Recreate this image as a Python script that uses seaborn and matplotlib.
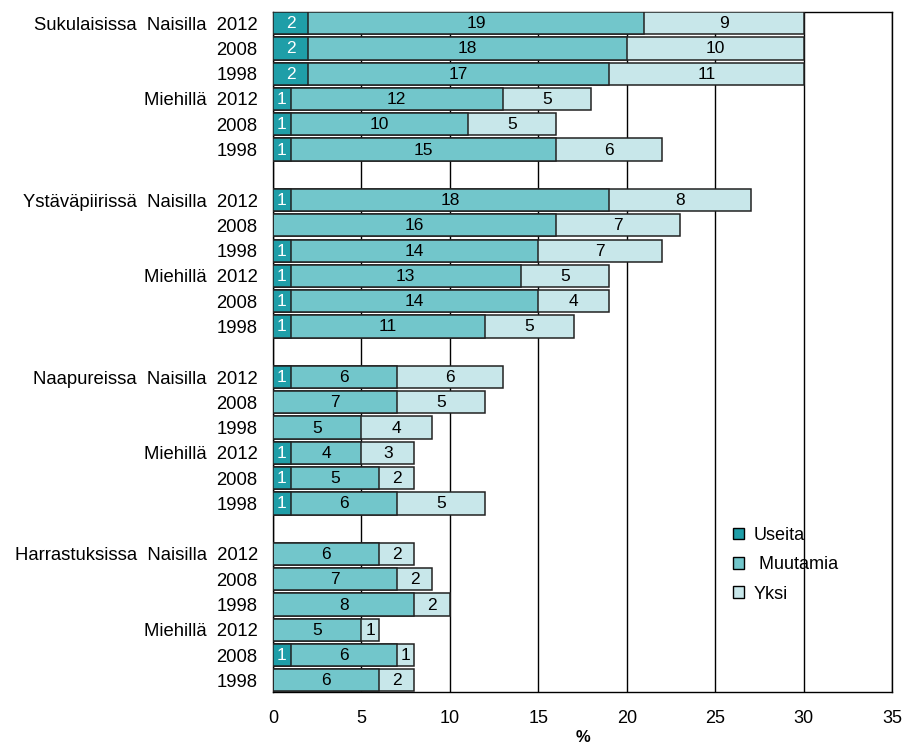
import matplotlib
matplotlib.use("Agg")
import matplotlib.pyplot as plt
import matplotlib.patches as mpatches
import seaborn as sns
import numpy as np
import pandas as pd

sns.set_theme(style="white")
plt.rcParams['font.family'] = ['Liberation Sans', 'DejaVu Sans']
plt.rcParams['text.color'] = 'black'

# ---- data ----
groups = ["Sukulaisissa", "Ystäväpiirissä", "Naapureissa", "Harrastuksissa"]
sexes = ["Naisilla", "Miehillä"]
years = ["2012", "2008", "1998"]

useita = [2, 2, 2, 1, 1, 1,
          1, 0, 1, 1, 1, 1,
          1, 0, 0, 1, 1, 1,
          0, 0, 0, 0, 1, 0]
muutamia = [19, 18, 17, 12, 10, 15,
            18, 16, 14, 13, 14, 11,
            6, 7, 5, 4, 5, 6,
            6, 7, 8, 5, 6, 6]
yksi = [9, 10, 11, 5, 5, 6,
        8, 7, 7, 5, 4, 5,
        6, 5, 4, 3, 2, 5,
        2, 2, 2, 1, 1, 2]

series_names = ["Useita", " Muutamia", "Yksi"]
colors = ["#1f9ea8", "#72c6cb", "#c8e7ea"]
xticks = [0, 5, 10, 15, 20, 25, 30, 35]

# ---- build positions and labels ----
labels = []
positions = []
pos = 0
for gi, g in enumerate(groups):
    for si, s in enumerate(sexes):
        for yi, y in enumerate(years):
            if si == 0 and yi == 0:
                labels.append(f"{g}  {s}  {y}")
            elif yi == 0:
                labels.append(f"{s}  {y}")
            else:
                labels.append(y)
            positions.append(pos)
            pos += 1
    pos += 1

u = np.array(useita)
m = np.array(muutamia)
k = np.array(yksi)
df = pd.DataFrame({
    "pos": positions,
    "c1": u,
    "c2": u + m,
    "c3": u + m + k,
})

fig = plt.figure(figsize=(9.02, 7.45), dpi=100)
ax = fig.add_axes([273/902, 1-692/745, (892-273)/902, (692-12)/745])

for col, color in zip(["c3", "c2", "c1"], colors[::-1]):
    sns.barplot(data=df, x=col, y="pos", orient="y", native_scale=True,
                color=color, saturation=1, edgecolor="#222222", linewidth=1.1,
                width=0.88, ax=ax, zorder=3)

# segment labels
for i, p in enumerate(positions):
    starts = [0, u[i], u[i] + m[i]]
    vals = [u[i], m[i], k[i]]
    for j, (st, v) in enumerate(zip(starts, vals)):
        if v > 0:
            ax.text(st + v / 2, p + 0.02, str(v), ha="center", va="center",
                    fontsize=12.5, color="white" if j == 0 else "black", zorder=5)

ax.set_xlim(0, 35)
ax.set_ylim(26.46, -0.44)
ax.set_xticks(xticks)
ax.set_xticklabels([str(t) for t in xticks], fontsize=13)
ax.set_yticks(positions)
ax.set_yticklabels(labels, fontsize=13.3)
ax.tick_params(axis="x", length=0, pad=13, colors="black")
ax.tick_params(axis="y", length=0, pad=11, colors="black")
ax.set_ylabel("")
ax.set_xlabel("%", fontsize=12, fontweight="bold", labelpad=2, color="black")
ax.xaxis.grid(True, color="black", linewidth=1.0)
ax.yaxis.grid(False)
ax.set_axisbelow(True)
for sp in ax.spines.values():
    sp.set_visible(True)
    sp.set_color("black")
    sp.set_linewidth(1.0)

handles = [mpatches.Patch(facecolor=c, edgecolor="black", linewidth=1.0) for c in colors]
leg = fig.legend(handles, series_names, loc="upper left",
                 bbox_to_anchor=(733/902, 1-527/745), frameon=False,
                 fontsize=13, handlelength=0.6, handleheight=0.6,
                 handletextpad=0.55, labelspacing=0.68, borderpad=0, borderaxespad=0)
for t in leg.get_texts():
    t.set_color("black")

fig.savefig("out.png", dpi=100)
